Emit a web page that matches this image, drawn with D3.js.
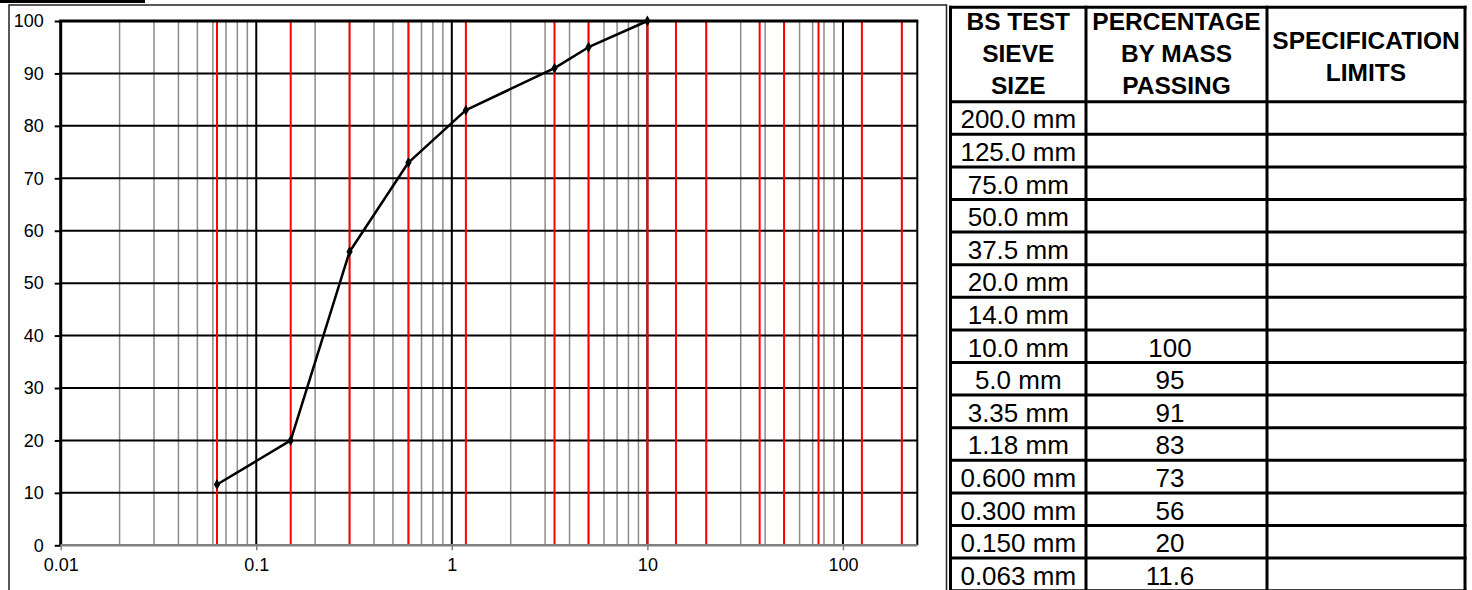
<!DOCTYPE html>
<html>
<head>
<meta charset="utf-8">
<script src="https://cdn.jsdelivr.net/npm/d3@7"></script>
<style>
  html, body { margin: 0; padding: 0; background: #fff; }
  svg { display: block; font-family: "Liberation Sans", Arial, sans-serif; }
</style>
</head>
<body>
<svg id="chart" width="1472" height="590"></svg>
<script>
// sieve table rows (top to bottom)
const sieveLabels = ['200.0 mm', '125.0 mm', '75.0 mm', '50.0 mm', '37.5 mm', '20.0 mm', '14.0 mm',
    '10.0 mm', '5.0 mm', '3.35 mm', '1.18 mm', '0.600 mm', '0.300 mm', '0.150 mm', '0.063 mm'];
const sieveSizes = [200, 125, 75, 50, 37.5, 20, 14, 10, 5, 3.35, 1.18, 0.6, 0.3, 0.15, 0.063];
const passing = [null, null, null, null, null, null, null, 100, 95, 91, 83, 73, 56, 20, 11.6];
const passingText = ['', '', '', '', '', '', '', '100', '95', '91', '83', '73', '56', '20', '11.6'];
const specLimits = ['', '', '', '', '', '', '', '', '', '', '', '', '', '', ''];

const headers = [
    ['BS TEST', 'SIEVE', 'SIZE'],
    ['PERCENTAGE', 'BY MASS', 'PASSING'],
    ['SPECIFICATION', 'LIMITS'],
];

const xTicks = [0.01, 0.1, 1, 10, 100];
const xTickLabels = ['0.01', '0.1', '1', '10', '100'];
const yTicks = [0, 10, 20, 30, 40, 50, 60, 70, 80, 90, 100];

const svg = d3.select('#chart');

const x = d3.scaleLog().domain([0.01, 240]).range([60.7, 917.3]);
const y = d3.scaleLinear().domain([0, 100]).range([545.3, 21]);

// black strip at the very top (cut-off title cell)
svg.append('rect').attr('x', 0).attr('y', 0).attr('width', 145).attr('height', 3).attr('fill', '#000');

// chart outer border
svg.append('path')
    .attr('d', 'M9,596 L9,5 L946.5,5 L946.5,596')
    .attr('fill', 'none').attr('stroke', '#222').attr('stroke-width', 1.5);

const grid = svg.append('g');

// minor grid (2..9 per decade)
const minor = [];
for (let e = -2; e <= 2; e++) {
    for (let m = 2; m <= 9; m++) {
        const v = m * Math.pow(10, e);
        if (v < 240) minor.push(v);
    }
}
grid.selectAll('line.minor').data(minor).enter().append('line')
    .attr('x1', d => x(d)).attr('x2', d => x(d))
    .attr('y1', y(0)).attr('y2', y(100))
    .attr('stroke', '#8c8c8c').attr('stroke-width', 1.5);

// horizontal major grid
grid.selectAll('line.h').data(yTicks.filter(d => d > 0)).enter().append('line')
    .attr('x1', x(0.01)).attr('x2', x(240))
    .attr('y1', d => y(d)).attr('y2', d => y(d))
    .attr('stroke', '#000').attr('stroke-width', 2);

// vertical major grid
grid.selectAll('line.v').data(xTicks.concat([240])).enter().append('line')
    .attr('x1', d => x(d)).attr('x2', d => x(d))
    .attr('y1', y(0)).attr('y2', y(100))
    .attr('stroke', '#000').attr('stroke-width', d => d === 0.01 ? 3 : 2);

// red sieve lines
grid.selectAll('line.sieve').data(sieveSizes).enter().append('line')
    .attr('x1', d => x(d)).attr('x2', d => x(d))
    .attr('y1', y(0)).attr('y2', y(100))
    .attr('stroke', '#ff0000').attr('stroke-width', 2);

// top border line again so it sits over red
svg.append('line')
    .attr('x1', x(0.01) - 1.5).attr('x2', x(240) + 1)
    .attr('y1', y(100)).attr('y2', y(100))
    .attr('stroke', '#000').attr('stroke-width', 3);

// axes
const yAxis = svg.append('g')
    .attr('transform', 'translate(' + x(0.01) + ',0)')
    .call(d3.axisLeft(y).tickValues(yTicks).tickSize(6).tickPadding(11));
yAxis.select('.domain').remove();
yAxis.selectAll('.tick line').attr('stroke', '#000').attr('stroke-width', 2);
yAxis.selectAll('.tick text')
    .attr('font-size', 18).attr('fill', '#000')
    .attr('font-family', '"Liberation Sans", Arial, sans-serif');

const xAxis = svg.append('g')
    .attr('transform', 'translate(0,' + y(0) + ')')
    .call(d3.axisBottom(x).tickValues(xTicks).tickFormat((d, i) => xTickLabels[i]).tickSize(5).tickPadding(8));
xAxis.select('.domain')
    .attr('d', 'M' + x(0.01) + ',0H' + x(240))
    .attr('stroke', '#808080').attr('stroke-width', 2.5);
xAxis.selectAll('.tick line').attr('stroke', '#808080').attr('stroke-width', 1.5);
xAxis.selectAll('.tick text')
    .attr('font-size', 18).attr('fill', '#000')
    .attr('font-family', '"Liberation Sans", Arial, sans-serif');

// grading curve
const pts = sieveSizes.map((s, i) => ({size: s, pass: passing[i]})).filter(d => d.pass !== null);
const line = d3.line().x(d => x(d.size)).y(d => y(d.pass));
svg.append('path').datum(pts)
    .attr('d', line)
    .attr('fill', 'none').attr('stroke', '#000').attr('stroke-width', 2.5)
    .attr('stroke-linejoin', 'round');
svg.selectAll('path.marker').data(pts).enter().append('path')
    .attr('transform', d => 'translate(' + x(d.size) + ',' + y(d.pass) + ')')
    .attr('d', d3.symbol(d3.symbolDiamond, 34))
    .attr('fill', '#000');

// table
const colX = [950.5, 1086, 1267, 1465];
const tableTop = 7.3;
const headBottom = 101.7;
const rowH = 32.6;

const table = svg.append('g');
// header text
const headerBaselines = [[30, 62, 94], [30, 62, 94], [49, 81]];
headers.forEach((lines, c) => {
    const cx = (colX[c] + colX[c + 1]) / 2;
    lines.forEach((t, j) => {
        table.append('text')
            .attr('x', cx).attr('y', headerBaselines[c][j])
            .attr('text-anchor', 'middle')
            .attr('font-size', 24.5).attr('font-weight', 'bold')
            .text(t);
    });
});

// body text
table.selectAll('text.size').data(sieveLabels).enter().append('text')
    .attr('x', (colX[0] + colX[1]) / 2)
    .attr('y', (d, i) => headBottom + i * rowH + 26.6)
    .attr('text-anchor', 'middle').attr('font-size', 26)
    .text(d => d);
table.selectAll('text.pass').data(passingText).enter().append('text')
    .attr('x', 1170)
    .attr('y', (d, i) => headBottom + i * rowH + 26.6)
    .attr('text-anchor', 'middle').attr('font-size', 26)
    .text(d => d);
table.selectAll('text.spec').data(specLimits).enter().append('text')
    .attr('x', (colX[2] + colX[3]) / 2)
    .attr('y', (d, i) => headBottom + i * rowH + 26.6)
    .attr('text-anchor', 'middle').attr('font-size', 26)
    .text(d => d);

// table lines
const rowLines = [tableTop, headBottom].concat(sieveLabels.map((d, i) => headBottom + (i + 1) * rowH));
table.selectAll('line.row').data(rowLines).enter().append('line')
    .attr('x1', colX[0] - 1.5).attr('x2', colX[3] + 1.5)
    .attr('y1', d => d).attr('y2', d => d)
    .attr('stroke', '#000').attr('stroke-width', 3);
table.selectAll('line.col').data(colX).enter().append('line')
    .attr('x1', d => d).attr('x2', d => d)
    .attr('y1', tableTop - 1.5).attr('y2', 600)
    .attr('stroke', '#000').attr('stroke-width', 3);
</script>
</body>
</html>
